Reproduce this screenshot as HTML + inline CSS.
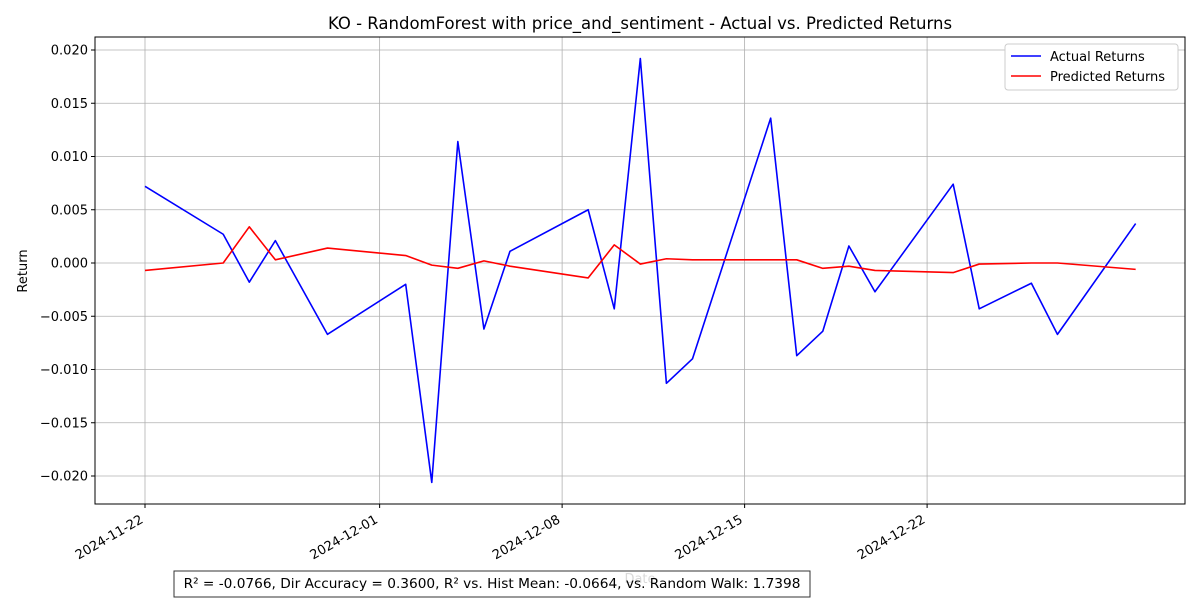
<!DOCTYPE html>
<html><head><meta charset="utf-8"><style>
body{margin:0;background:#fff;font-family:"Liberation Sans","DejaVu Sans",sans-serif;}
svg text{font-family:"DejaVu Sans","Liberation Sans",sans-serif;}
</style></head><body>
<svg id="chart" width="1200" height="600"></svg>
<script>
const dates=["2024-11-22","2024-11-25","2024-11-26","2024-11-27","2024-11-29","2024-12-02","2024-12-03","2024-12-04","2024-12-05","2024-12-06","2024-12-09","2024-12-10","2024-12-11","2024-12-12","2024-12-13","2024-12-16","2024-12-17","2024-12-18","2024-12-19","2024-12-20","2024-12-23","2024-12-24","2024-12-26","2024-12-27","2024-12-30"];
const actual=[0.0072,0.0027,-0.0018,0.0021,-0.0067,-0.0020,-0.0206,0.0114,-0.0062,0.0011,0.0050,-0.0043,0.0192,-0.0113,-0.0090,0.0136,-0.0087,-0.0064,0.0016,-0.0027,0.0074,-0.0043,-0.0019,-0.0067,0.0037];
const predicted=[-0.0007,0.0000,0.0034,0.0003,0.0014,0.0007,-0.0002,-0.0005,0.0002,-0.0003,-0.0014,0.0017,-0.0001,0.0004,0.0003,0.0003,0.0003,-0.0005,-0.0003,-0.0007,-0.0009,-0.0001,0.0000,0.0000,-0.0006];
const yTicks=[-0.020,-0.015,-0.010,-0.005,0.000,0.005,0.010,0.015,0.020];
const xTicks=["2024-11-22","2024-12-01","2024-12-08","2024-12-15","2024-12-22"];
const NS="http://www.w3.org/2000/svg";
const svg=document.getElementById('chart');
const L=95,R=1185,T=37,B=504;
const d0=Date.parse("2024-11-22");
function x(d){return 145+(Date.parse(d)-d0)/86400000*26.07;}
function y(v){return 263-v/0.005*53.25;}
function el(t,a,txt){const e=document.createElementNS(NS,t);for(const k in a)e.setAttribute(k,a[k]);if(txt!==undefined)e.textContent=txt;svg.appendChild(e);return e;}
yTicks.forEach(v=>{
 const g=el('line',{x1:L,x2:R,y1:y(v),y2:y(v),stroke:'#b0b0b0','stroke-width':0.8});
 
 
 el('line',{x1:L-4,x2:L,y1:y(v),y2:y(v),stroke:'#000'});
 const t=el('text',{x:L-7,y:y(v)+4.5,'text-anchor':'end','font-size':13},(v<0?'\u2212':'')+Math.abs(v).toFixed(3));
 
 
});
xTicks.forEach(d=>{
 const g=el('line',{x1:x(d),x2:x(d),y1:T,y2:B,stroke:'#b0b0b0','stroke-width':0.8});
 
 
 el('line',{x1:x(d),x2:x(d),y1:B,y2:B+4,stroke:'#000'});
 const tx=x(d)-1,ty=B+18;
 const t=el('text',{x:tx,y:ty,'text-anchor':'end','font-size':13,transform:`rotate(-30 ${tx} ${ty})`},d);
 
 
});
function series(vals,color,name){
 const p=el('polyline',{points:vals.map((v,i)=>x(dates[i])+','+y(v)).join(' '),fill:'none',stroke:color,'stroke-width':1.6,'stroke-linejoin':'round'});
 
 
}
series(actual,'#0000ff','actual-returns-line');
series(predicted,'#ff0000','predicted-returns-line');
const fr=el('rect',{x:L,y:T,width:R-L,height:B-T,fill:'none',stroke:'#000','stroke-width':1});


const ti=el('text',{x:640,y:29,'text-anchor':'middle','font-size':16.5},'KO - RandomForest with price_and_sentiment - Actual vs. Predicted Returns');


const yl=el('text',{x:27,y:271,'text-anchor':'middle','font-size':13,transform:'rotate(-90 27 271)'},'Return');


const xl=el('text',{x:640,y:583,'text-anchor':'middle','font-size':13,fill:'#000'},'Date');


const lg=el('rect',{x:1005,y:44,width:173,height:46,fill:'#fff',stroke:'#ccc',rx:3});


el('line',{x1:1011,x2:1041,y1:56,y2:56,stroke:'#0000ff','stroke-width':1.6});
const l1=el('text',{x:1050,y:61,'font-size':13},'Actual Returns');


el('line',{x1:1011,x2:1041,y1:76,y2:76,stroke:'#ff0000','stroke-width':1.6});
const l2=el('text',{x:1050,y:81,'font-size':13},'Predicted Returns');


const sb=el('rect',{x:174,y:571,width:636,height:26,fill:'#fff','fill-opacity':0.85,stroke:'#333','stroke-width':1});


const st=el('text',{x:492,y:588,'text-anchor':'middle','font-size':13.7},'R² = -0.0766, Dir Accuracy = 0.3600, R² vs. Hist Mean: -0.0664, vs. Random Walk: 1.7398');


</script>
</body></html>
